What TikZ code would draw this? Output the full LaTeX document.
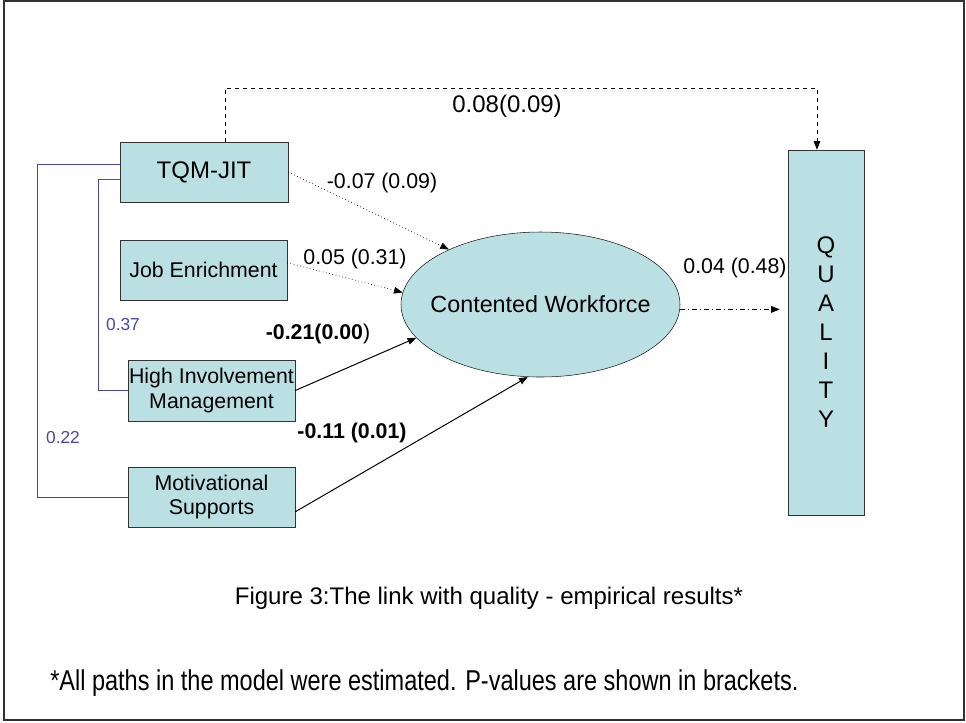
\documentclass[tikz,border=0pt]{standalone}
\usepackage{fontspec}
\setmainfont{Liberation Sans}
\newfontfamily\narrowfont{Liberation Sans}[FakeStretch=0.82]
\usetikzlibrary{shapes.geometric,arrows.meta}
\definecolor{boxfill}{RGB}{187,224,227}
\definecolor{linkblue}{RGB}{72,72,168}

\begin{document}
\begin{tikzpicture}[x=0.75pt,y=0.75pt,yscale=-1,xscale=1,
  >={Triangle[length=6.5pt,width=5pt]},
  varbox/.style={draw=black!80,fill=boxfill,inner sep=0pt,align=center,font=\fontsize{16}{18.5}\selectfont},
  lbl/.style={inner sep=0.75pt,font=\fontsize{16}{18}\selectfont},
  bluelbl/.style={inner sep=0.75pt,text=linkblue,font=\fontsize{13}{15}\selectfont},
  bluelink/.style={draw=linkblue,line width=0.75pt}]
\useasboundingbox (0,0) rectangle (966,722);
%Frame
\draw [black!80,line width=1.5pt] (4,1) rectangle (964,720);

%Shape: Rectangle [id:tqm]
\node (tqm) at (204,172) [varbox,minimum width=126pt,minimum height=45pt,font=\fontsize{18}{20}\selectfont] {TQM-JIT};
%Shape: Rectangle [id:job]
\node (job) at (203.5,270) [varbox,minimum width=125.25pt,minimum height=45pt] {Job Enrichment};
%Shape: Rectangle [id:him]
\node (him) at (211.5,390.5) [varbox,minimum width=125.25pt,minimum height=45.75pt] {High Involvement\\Management};
%Shape: Rectangle [id:mot]
\node (mot) at (211.5,497) [varbox,minimum width=125.25pt,minimum height=45pt] {Motivational\\Supports};
%Shape: Ellipse [id:cw]
\node (cw) at (540.5,304.5) [ellipse,draw=black!90,fill=boxfill,inner ysep=0pt,inner xsep=-12pt,minimum width=209.25pt,minimum height=108.75pt,font=\fontsize{17.5}{20}\selectfont] {Contented Workforce};
%Shape: Rectangle [id:qual]
\node (qual) at (826,332.5) [varbox,minimum width=57pt,minimum height=273.75pt,font=\fontsize{18}{21.75}\selectfont] {Q\\U\\A\\L\\I\\T\\Y};

%Straight Lines - paths into the workforce
\draw [dotted,line width=0.5pt,->] (tqm.east) -- (cw.149);
\draw [dotted,line width=0.5pt,->] (job.5) -- (cw.175);
\draw [line width=0.75pt,->] (him.east) -- (cw.195);
\draw [line width=0.75pt,->] (mot.-10) -- (cw.260);
%Straight Lines - workforce to quality
\draw [dash pattern=on 4pt off 2pt on 1pt off 2pt,line width=0.6pt,->,shorten >=6pt] (cw.-2) -- (cw.-2 -| qual.west);
%Connector - direct path
\coordinate (dl) at (225,88);
\coordinate (dr) at (817,88);
\draw [dashed,line width=0.6pt,->] (dl |- tqm.north) -- (dl) -- (dr) -- (dr |- qual.north);
%Connector - correlations
\coordinate (o1) at (37,164);
\coordinate (i1) at (98,179);
\draw [bluelink] (o1 -| tqm.west) -- (o1) |- (mot.west);
\draw [bluelink] (i1 -| tqm.west) -- (i1) |- (him.west);

% Text Node
\node (l1) at (382,183) [lbl] {-0.07 (0.09)};
% Text Node
\node (l2) at (355,259) [lbl] {0.05 (0.31)};
% Text Node
\node (l3) at (318,334) [lbl] {\textbf{-0.21(0.00}) };
% Text Node
\node (l4) at (352,433) [lbl] {\textbf{-0.11 (0.01)}};
% Text Node
\node (l5) at (735,268) [lbl] {0.04 (0.48)};
% Text Node
\node (l6) at (507,106) [lbl,font=\fontsize{18}{20}\selectfont] {0.08(0.09)};
% Text Node
\node (l7) at (123,325) [bluelbl] {0.37};
% Text Node
\node (l8) at (63,438) [bluelbl] {0.22};
% Text Node
\node (cap) at (489,598) [lbl,font=\fontsize{18}{20}\selectfont] {Figure 3:The link with quality - empirical results*};
% Text Node
\node (note) at (50,683) [anchor=west,inner sep=0pt,font=\narrowfont\fontsize{21.5}{24}\selectfont] {*All paths in the model were estimated. P-values are shown in brackets.};

\end{tikzpicture}
\end{document}
